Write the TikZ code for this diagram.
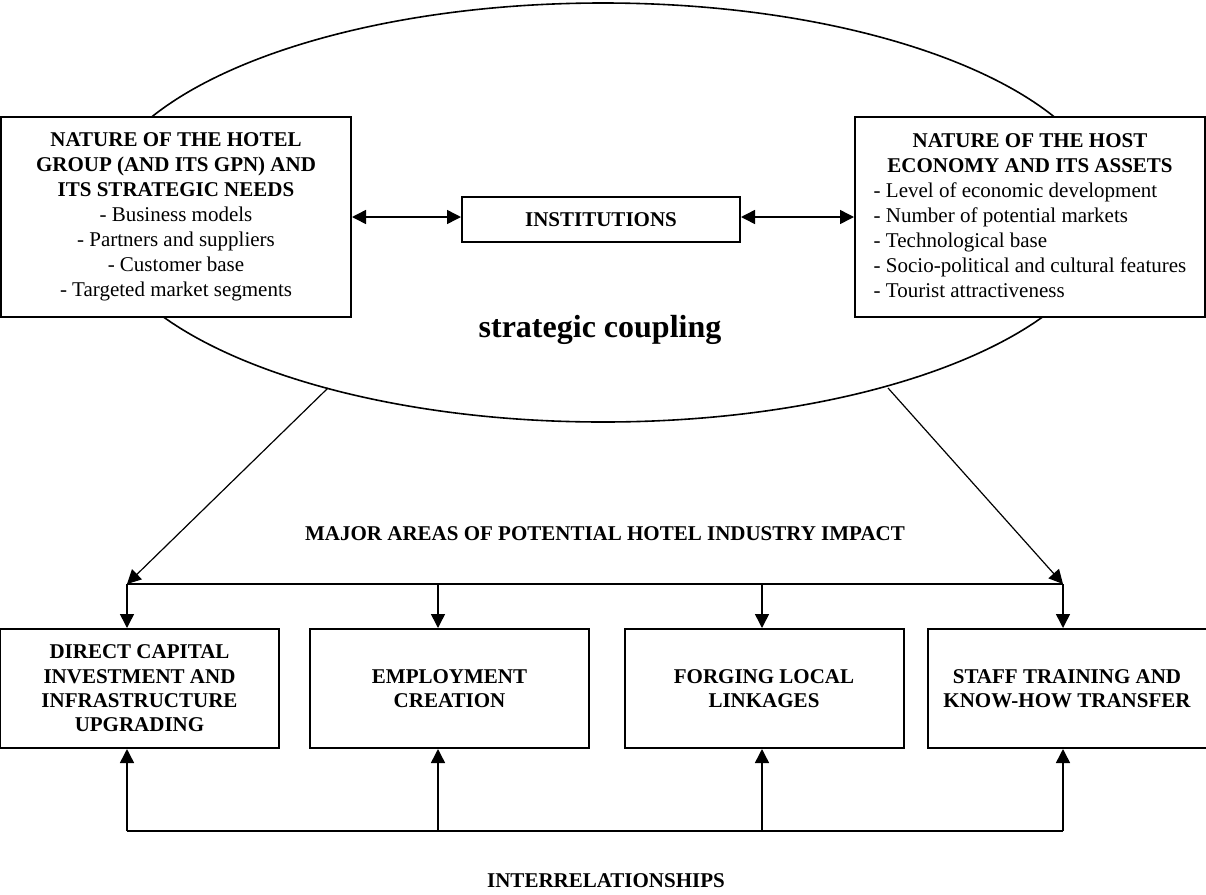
\documentclass[tikz,border=0pt]{standalone}
\usepackage{fontspec}
\setmainfont{Liberation Serif}
\usetikzlibrary{arrows.meta}
\begin{document}
\begin{tikzpicture}[x=0.5pt,y=-0.5pt,font=\fontsize{10.5}{12.5}\selectfont,
  >={Triangle[length=7pt,width=7pt]},
  box/.style={draw,line width=1pt,fill=white,inner sep=0pt,align=center},
  bigbox/.style={box,minimum width=175pt,minimum height=100pt},
  impbox/.style={box,minimum width=139.5pt,minimum height=59.5pt,
    font=\fontsize{10.5}{12.2}\selectfont\bfseries},
  link/.style={line width=0.75pt}]
  \useasboundingbox (0,0) rectangle (1206,895);
  \draw[line width=0.8pt] (603,212.5) ellipse [x radius=253.5pt,y radius=104.75pt];
  \node[font=\fontsize{16}{19}\selectfont\bfseries] (coupling) at (600,330) {strategic coupling};
  \node[bigbox] (hotel) at (176,217) {\textbf{NATURE OF THE HOTEL}\\
    \textbf{GROUP (AND ITS GPN) AND}\\ \textbf{ITS STRATEGIC NEEDS}\\
    - Business models\\ - Partners and suppliers\\ - Customer base\\
    - Targeted market segments};
  \node[bigbox] (host) at (1030,217) {\begin{tabular}{@{}l@{}}
    \multicolumn{1}{@{}c@{}}{\textbf{NATURE OF THE HOST}}\\
    \multicolumn{1}{@{}c@{}}{\textbf{ECONOMY AND ITS ASSETS}}\\
    - Level of economic development\\ - Number of potential markets\\
    - Technological base\\ - Socio-political and cultural features\\
    - Tourist attractiveness\end{tabular}};
  \node[box,minimum width=139pt,minimum height=22.5pt,font=\fontsize{10.5}{12.5}\selectfont\bfseries]
    (inst) at (601,219.5) {INSTITUTIONS};
  \draw[link,<->] (hotel.east) -- (hotel.east -| inst.west);
  \draw[link,<->] (host.west -| inst.east) -- (host.west);
  % impact areas
  \node[font=\fontsize{10.5}{12.5}\selectfont\bfseries] (impact) at (605,534)
    {MAJOR AREAS OF POTENTIAL HOTEL INDUSTRY IMPACT};
  \node[impbox] (capital) at (139.5,688.5) {DIRECT CAPITAL\\ INVESTMENT AND\\
    INFRASTRUCTURE\\ UPGRADING};
  \node[impbox] (employ) at (449.5,688.5) {EMPLOYMENT\\ CREATION};
  \node[impbox] (linkage) at (764,688.5) {FORGING LOCAL\\ LINKAGES};
  \node[impbox] (training) at (1067,688.5) {STAFF TRAINING AND\\ KNOW-HOW TRANSFER};
  \node[font=\fontsize{10.5}{12.5}\selectfont\bfseries] (interrel) at (606,881)
    {INTERRELATIONSHIPS};
  \coordinate (eL) at (328,388);
  \coordinate (eR) at (888,388);
  \coordinate (t1) at (127,584);
  \coordinate (t2) at (438,584);
  \coordinate (t3) at (762,584);
  \coordinate (t4) at (1063,584);
  \coordinate (u1) at (127,831);
  \coordinate (u2) at (438,831);
  \coordinate (u3) at (762,831);
  \coordinate (u4) at (1063,831);
  \draw[line width=0.6pt,->] (eL) -- (t1);
  \draw[line width=0.6pt,->] (eR) -- (t4);
  \draw[link] (t1) -- (t4);
  \draw[link] (u1) -- (u4);
  \draw[link,->] (t1) -- (t1 |- capital.north);
  \draw[link,->] (t2) -- (t2 |- employ.north);
  \draw[link,->] (t3) -- (t3 |- linkage.north);
  \draw[link,->] (t4) -- (t4 |- training.north);
  \draw[link,->] (u1) -- (u1 |- capital.south);
  \draw[link,->] (u2) -- (u2 |- employ.south);
  \draw[link,->] (u3) -- (u3 |- linkage.south);
  \draw[link,->] (u4) -- (u4 |- training.south);
\end{tikzpicture}
\end{document}
